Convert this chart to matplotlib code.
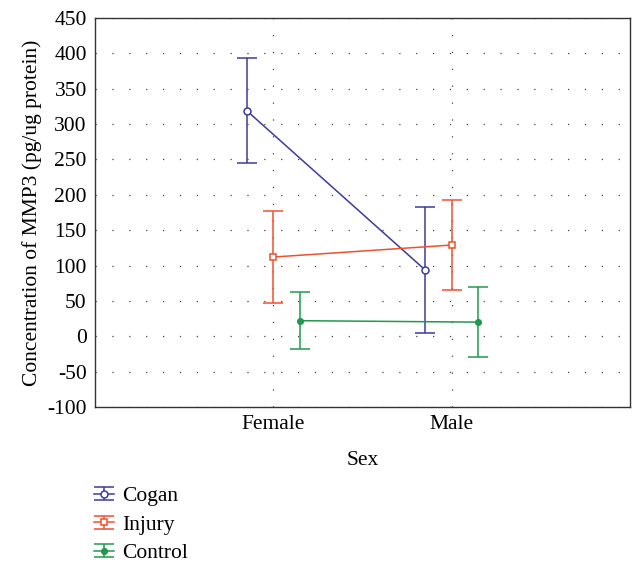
import matplotlib
matplotlib.use("Agg")
import matplotlib.pyplot as plt
from matplotlib.container import ErrorbarContainer
from matplotlib.legend_handler import HandlerErrorbar
import numpy as np

plt.rcParams['font.family'] = ['Liberation Serif', 'DejaVu Serif']

categories = ["Female", "Male"]
series = ["Cogan", "Injury", "Control"]
means = {"Cogan": [319, 94], "Injury": [112, 129], "Control": [22, 20]}
errors = {"Cogan": [74, 89], "Injury": [65, 63], "Control": [40, 49]}
colors = {"Cogan": "#3b3b9c", "Injury": "#f0502e", "Control": "#1f9a4c"}
markers = {"Cogan": "o", "Injury": "s", "Control": "o"}
offsets = {"Cogan": -0.15, "Injury": 0.0, "Control": 0.15}
yticks = list(range(-100, 451, 50))

fig = plt.figure(figsize=(6.34, 5.67), dpi=100)
ax = fig.add_axes([0.150, 0.2822, 0.8437, 0.6861])

x = np.arange(1, len(categories) + 1)
handles = []
for s in series:
    xs = x + offsets[s]
    filled = s == "Control"
    h = ax.errorbar(xs, means[s], yerr=errors[s], color=colors[s], lw=1.1,
                    marker=markers[s], ms=5 if not filled else 4,
                    mfc=colors[s] if filled else 'white', mec=colors[s], mew=1.1,
                    capsize=7, capthick=1.1, elinewidth=1.1, label=s)
    handles.append(h)

ax.set_xlim(0, 3)
ax.set_ylim(-100, 450)
ax.set_yticks(yticks)
ax.set_yticklabels([str(v) for v in yticks])
ax.set_xticks(x)
ax.set_xticklabels(categories)
ax.tick_params(length=0, labelsize=15.5, pad=6)
ax.grid(True, color='#444444', linestyle=(0, (1, 12.5)), lw=0.9)
for sp in ax.spines.values():
    sp.set_linewidth(1.0)
    sp.set_color('#333333')
ax.set_xlabel("Sex", fontsize=15.5, labelpad=12)
ax.set_ylabel("Concentration of MMP3 (pg/ug protein)", fontsize=15.5, labelpad=4)

fig.legend(handles=handles, labels=series, loc='upper left',
           bbox_to_anchor=(0.135, 0.158), frameon=False, fontsize=15.5,
           handlelength=0.9, handletextpad=0.4, labelspacing=0.40,
           borderaxespad=0,
           handler_map={ErrorbarContainer: HandlerErrorbar(yerr_size=0.3)})

fig.savefig("out.png", dpi=100)
